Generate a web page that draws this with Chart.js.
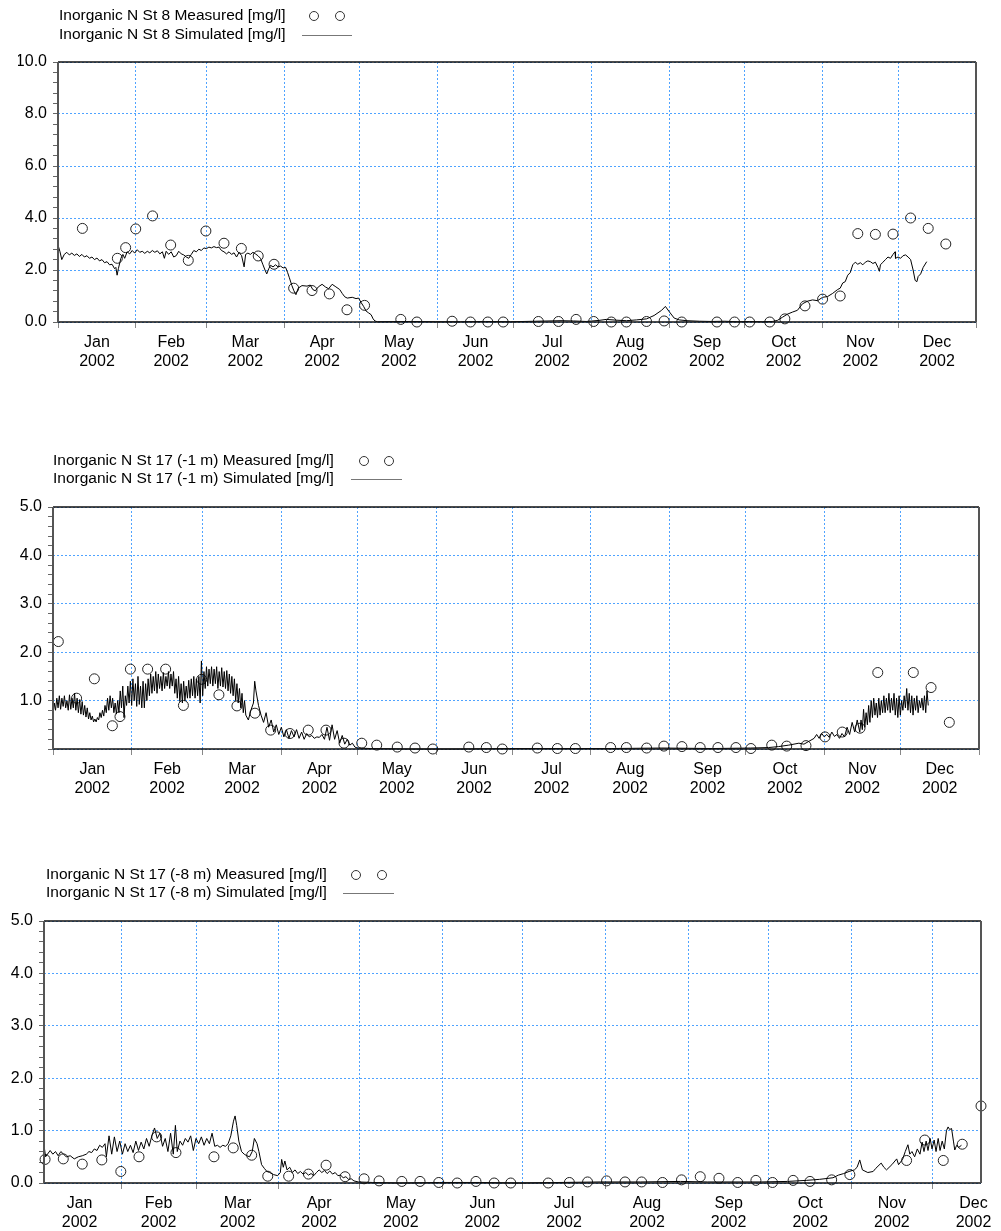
<!DOCTYPE html>
<html lang="en">
<head>
<meta charset="UTF-8">
<title>Inorganic N 2002</title>
<script src="https://cdn.jsdelivr.net/npm/chart.js"></script>
<style>
  body { margin: 0; background: #fff; }
  canvas { position: absolute; left: 0; }
</style>
</head>
<body>
<canvas id="c1" width="1001" height="410" style="top:0px"></canvas>
<canvas id="c2" width="1001" height="410" style="top:420px"></canvas>
<canvas id="c3" width="1001" height="401" style="top:830px"></canvas>
<script>
// x axis: day of year 2002 (0 = 1 Jan)
const months = ['Jan','Feb','Mar','Apr','May','Jun','Jul','Aug','Sep','Oct','Nov','Dec'];
const monthStart = [0,31,59,90,120,151,181,212,243,273,304,334,365];
const yearLabel = '2002';

// Station 8
const st8MeasDay = [9.7,23.6,26.9,30.9,37.6,44.8,51.8,58.8,66,72.9,79.6,85.9,93.7,101,107.9,114.9,121.9,136.3,142.7,156.7,164,170.9,177,191,199,206,213,220,226,234,241,248,262,269,275,283,289,297,304,311,318,325,332,339,346,353];
const st8MeasVal = [3.6,2.45,2.86,3.58,4.08,2.96,2.37,3.5,3.03,2.83,2.54,2.22,1.3,1.21,1.08,0.47,0.64,0.1,0.0,0.03,0.0,0.0,0.0,0.02,0.02,0.1,0.02,0.0,0.0,0.02,0.04,0.0,0.0,0.0,0.0,0.0,0.12,0.62,0.88,1.0,3.4,3.37,3.38,4.0,3.6,3.0];
const st8Sim = [[0,2.96],[0.8,2.7],[1.5,2.4],[2.5,2.6],[3.5,2.68],[4.5,2.58],[5.5,2.65],[6.5,2.56],[7.5,2.62],[8.5,2.52],[9.5,2.6],[10.5,2.5],[11.5,2.55],[12.5,2.45],[13.5,2.5],[14.5,2.4],[15.5,2.46],[16.5,2.35],[17.5,2.4],[18.5,2.28],[19.5,2.32],[20.5,2.2],[21.5,2.22],[22.5,2.05],[23,2.1],[23.5,1.8],[24,2.05],[25,2.45],[25.8,2.6],[26.5,2.45],[27.5,2.7],[28.5,2.62],[29.5,2.75],[30.5,2.65],[31.5,2.78],[32.5,2.68],[33.5,2.72],[34.5,2.64],[35.5,2.72],[36.5,2.66],[37.5,2.75],[38.5,2.68],[39.5,2.74],[40.5,2.62],[41.5,2.7],[42.3,2.45],[43,2.72],[44,2.6],[45,2.7],[46,2.5],[47,2.55],[48,2.72],[49,2.62],[50,2.58],[51,2.5],[52,2.45],[53,2.6],[54,2.75],[55,2.7],[56,2.8],[57,2.75],[58,2.85],[59,2.82],[60,2.88],[61,2.85],[62,2.9],[63,2.86],[64,2.88],[65,2.75],[66,2.7],[67,2.62],[68,2.7],[69,2.6],[70,2.66],[71,2.5],[72,2.68],[73,2.55],[74,2.12],[74.6,2.6],[75.5,2.65],[76.5,2.6],[77.5,2.68],[78.5,2.62],[79.5,2.55],[80.5,2.45],[81.5,2.2],[82.3,2.0],[83,1.85],[83.8,2.05],[84.5,2.18],[85.5,2.12],[86.5,2.2],[87.5,2.12],[88.5,2.15],[89.5,2.08],[90.5,2.1],[91.3,1.9],[92,1.7],[93,1.4],[93.8,1.2],[94.6,1.05],[95.5,1.3],[97,1.4],[99,1.38],[100.3,1.42],[101.3,1.25],[102.3,1.2],[103.5,1.35],[105,1.45],[106.3,1.35],[107.6,1.28],[109,1.45],[110.5,1.35],[112,1.25],[113,1.1],[114,0.97],[115,0.92],[117,0.95],[118.5,0.9],[119.5,0.92],[120.5,0.75],[121.5,0.6],[122.5,0.42],[123.5,0.35],[124.5,0.28],[125.3,0.12],[126,0.04],[127,0.01],[140,0.02],[150,0.01],[160,0.01],[170,0.02],[180,0.01],[190,0.03],[200,0.05],[205,0.04],[210,0.02],[215,0.06],[218,0.1],[222,0.07],[226,0.05],[230,0.08],[234,0.12],[237,0.25],[240,0.45],[241.5,0.6],[243,0.4],[245,0.15],[247,0.08],[250,0.05],[255,0.03],[260,0.02],[265,0.03],[270,0.01],[275,0.02],[280,0.01],[284,0.02],[286,0.06],[288,0.18],[290,0.3],[292,0.38],[294,0.45],[296,0.7],[298,0.8],[300,0.85],[302,0.82],[304,0.95],[306,0.98],[308,1.1],[310,1.25],[311,1.3],[312,1.5],[313,1.55],[314,1.8],[315,1.9],[316,2.2],[317,2.3],[318,2.22],[319,2.28],[320,2.2],[321,2.3],[322,2.35],[323,2.32],[324,2.25],[325,2.3],[326,2.1],[326.6,1.95],[327,2.2],[328,2.3],[329,2.4],[330,2.5],[331,2.45],[332,2.6],[332.8,2.7],[333,2.45],[334,2.5],[335,2.45],[336,2.55],[337,2.58],[338,2.5],[339,2.4],[340,2.0],[340.8,1.6],[341.5,1.55],[342,1.75],[343,1.85],[344,2.1],[345.4,2.32]];

// Station 17, -1 m
const st17sMeasDay = [2.1,9.3,16.3,23.4,26.4,30.5,37.3,44.4,51.4,58.6,65.4,72.5,79.6,85.8,93.4,100.6,107.6,114.7,121.7,127.6,135.7,142.7,149.7,163.9,170.8,177.1,190.9,198.8,205.9,219.8,226,234,240.8,247.9,255.1,262.1,269.2,275.1,283.3,289.2,296.8,304.3,311.1,318.1,325.1,339.1,346.1,353.3];
const st17sMeasVal = [2.22,1.05,1.45,0.48,0.67,1.65,1.65,1.65,0.9,1.44,1.12,0.89,0.74,0.39,0.32,0.39,0.39,0.12,0.12,0.08,0.04,0.02,0.0,0.04,0.03,0.0,0.02,0.01,0.01,0.03,0.03,0.02,0.06,0.05,0.03,0.03,0.03,0.01,0.08,0.06,0.07,0.25,0.35,0.43,1.58,1.58,1.27,0.55];
const st17sSim = [[0,0.7],[0.5,0.95],[1,0.8],[1.5,1.05],[2,0.85],[2.5,1.1],[3,0.82],[3.5,1.05],[4,0.88],[4.5,1.1],[5,0.85],[5.5,1.0],[6,0.8],[6.5,1.12],[7,0.82],[7.5,1.05],[8,0.85],[8.5,1.15],[9,0.8],[9.5,1.05],[10,0.75],[10.5,1.02],[11,0.72],[11.5,0.98],[12,0.7],[12.5,0.9],[13,0.66],[13.5,0.85],[14,0.62],[14.5,0.75],[15,0.6],[15.5,0.68],[16,0.56],[16.5,0.62],[17,0.56],[17.5,0.65],[18,0.6],[18.5,0.75],[19,0.65],[19.5,0.8],[20,0.68],[20.5,0.9],[21,0.75],[21.5,1.05],[22,0.8],[22.5,1.1],[23,0.85],[23.5,1.05],[24,0.75],[24.5,0.95],[25,0.72],[25.5,1.0],[26,0.75],[26.5,1.2],[27,0.85],[27.5,1.3],[28,0.65],[28.5,1.1],[29,0.9],[29.5,1.3],[30,0.95],[30.5,1.4],[31,0.9],[31.5,1.45],[32,1.0],[32.5,1.35],[33,0.88],[33.5,1.5],[34,0.92],[34.5,1.3],[35,0.85],[35.5,1.4],[36,0.85],[36.5,1.35],[37,1.0],[37.5,1.45],[38,1.1],[38.5,1.55],[39,1.15],[39.5,1.5],[40,1.2],[40.5,1.6],[41,1.15],[41.5,1.55],[42,1.25],[42.5,1.5],[43,1.2],[43.5,1.58],[44,1.25],[44.5,1.5],[45,1.3],[45.5,1.6],[46,1.25],[46.5,1.55],[47,1.3],[47.5,1.6],[48,1.15],[48.5,1.45],[49,1.05],[49.5,1.5],[50,0.98],[50.5,1.35],[51,0.95],[51.5,1.4],[52,1.0],[52.5,1.3],[53,1.05],[53.5,1.42],[54,1.05],[54.5,1.45],[55,1.1],[55.5,1.5],[56,1.05],[56.5,1.45],[57,1.1],[57.5,1.5],[58,0.95],[58.5,1.82],[59,1.1],[59.5,1.6],[60,1.25],[60.5,1.7],[61,1.3],[61.5,1.65],[62,1.35],[62.5,1.7],[63,1.3],[63.5,1.65],[64,1.35],[64.5,1.7],[65,1.25],[65.5,1.6],[66,1.3],[66.5,1.68],[67,1.28],[67.5,1.6],[68,1.25],[68.5,1.62],[69,1.2],[69.5,1.55],[70,1.15],[70.5,1.5],[71,1.1],[71.5,1.45],[72,1.0],[72.5,1.35],[73,0.95],[73.5,1.25],[74,0.85],[74.5,1.15],[75,0.75],[75.5,1.0],[76,0.7],[77,0.6],[78,0.8],[79,0.95],[79.5,1.4],[80,1.2],[81,0.9],[82,0.7],[83,0.55],[84,0.75],[85,0.45],[86,0.6],[87,0.35],[88,0.5],[89,0.3],[90,0.45],[91,0.25],[92,0.4],[93,0.22],[94,0.38],[95,0.25],[96,0.4],[97,0.22],[98,0.35],[99,0.2],[100,0.32],[101,0.25],[102,0.28],[103,0.22],[104,0.25],[105,0.24],[106,0.3],[107,0.2],[108,0.45],[109,0.18],[110,0.5],[111,0.2],[112,0.38],[113,0.12],[114,0.28],[115,0.1],[116,0.2],[117,0.08],[118,0.12],[119,0.04],[120,0.02],[125,0.01],[140,0.0],[160,0.0],[180,0.01],[200,0.01],[220,0.01],[240,0.02],[260,0.01],[275,0.02],[282,0.03],[286,0.05],[290,0.08],[294,0.12],[296,0.1],[298,0.16],[300,0.22],[301,0.3],[302,0.22],[303,0.32],[304,0.25],[305,0.3],[306,0.24],[307,0.35],[308,0.26],[309,0.3],[310,0.22],[311,0.32],[312,0.25],[313,0.45],[314,0.3],[315,0.55],[316,0.35],[317,0.6],[318,0.35],[318.5,0.6],[319,0.4],[319.5,0.82],[320,0.45],[320.5,0.75],[321,0.5],[321.5,0.9],[322,0.55],[322.5,1.0],[323,0.65],[323.5,1.05],[324,0.7],[324.5,0.95],[325,0.65],[325.5,1.05],[326,0.7],[326.5,1.0],[327,0.75],[327.5,1.1],[328,0.75],[328.5,1.05],[329,0.8],[329.5,1.15],[330,0.75],[330.5,1.05],[331,0.8],[331.5,1.15],[332,0.7],[332.5,1.05],[333,0.65],[333.5,1.1],[334,0.7],[334.5,1.0],[335,0.8],[335.5,1.1],[336,0.85],[336.5,1.25],[337,0.8],[337.5,1.15],[338,0.75],[338.5,1.1],[339,0.7],[339.5,1.05],[340,0.8],[340.5,1.1],[341,0.75],[341.5,1.0],[342,0.85],[342.5,1.05],[343,0.8],[343.5,1.1],[344,0.75],[344.5,1.2],[345,0.9]];

// Station 17, -8 m
const st17dMeasDay = [2.6,9.4,16.5,23.8,30.9,37.7,44.3,51.5,65.7,72.9,79.8,85.8,93.6,101,107.6,114.7,121.8,127.4,135.9,142.7,149.7,156.6,163.6,170.4,176.6,190.6,198.5,205.3,212.4,219.3,225.5,233.3,240.4,247.4,254.4,261.4,268.2,274.4,282.1,288.4,296.5,303.3,324.5,331.3,338.2,345.3,352.3];
const st17dMeasVal = [0.45,0.46,0.36,0.44,0.22,0.5,0.88,0.58,0.5,0.67,0.53,0.13,0.13,0.17,0.34,0.12,0.08,0.04,0.03,0.03,0.01,0.0,0.03,0.0,0.0,0.0,0.01,0.02,0.04,0.02,0.02,0.01,0.06,0.12,0.09,0.01,0.05,0.01,0.05,0.03,0.06,0.16,0.43,0.82,0.43,0.74,1.47];
const st17dSim = [[2.3,0.68],[2.8,0.5],[3.5,0.55],[4.5,0.62],[5.5,0.55],[6.5,0.6],[7.5,0.52],[8.5,0.6],[9.5,0.55],[10.5,0.5],[12,0.52],[13.5,0.46],[15,0.5],[16.5,0.52],[18,0.55],[19,0.6],[20,0.58],[21,0.65],[22,0.62],[23,0.72],[24,0.68],[25,0.75],[25.5,0.5],[26.5,0.9],[27.5,0.55],[28.5,0.88],[29.5,0.6],[30.5,0.8],[31.5,0.55],[32.5,0.75],[33.5,0.6],[34.5,0.72],[35.5,0.58],[36.5,0.8],[37.5,0.62],[38.5,0.78],[39.5,0.65],[40.5,0.85],[41.5,0.7],[42.5,0.9],[43.5,1.05],[44.5,0.85],[45.5,0.95],[46.5,0.7],[47.5,0.85],[48.5,0.6],[49.5,0.95],[50.5,0.55],[51.3,1.1],[52,0.6],[53,0.8],[54,0.72],[55,0.85],[56,0.78],[57,0.9],[58,0.62],[59,0.85],[60,0.75],[61,0.88],[62,0.72],[63,0.85],[64,0.75],[65,0.95],[66,0.7],[67,0.72],[68,0.68],[69,0.72],[70,0.7],[71,0.75],[72,0.9],[73,1.18],[73.6,1.28],[74.2,1.1],[75,0.8],[76,0.6],[77,0.55],[78,0.52],[79,0.5],[80,0.6],[80.8,0.85],[81.8,0.75],[82.5,0.6],[83.5,0.35],[84.5,0.28],[85.5,0.22],[86.5,0.2],[88,0.16],[89.5,0.14],[90.5,0.2],[91,0.45],[91.6,0.3],[92.2,0.42],[93,0.25],[94,0.3],[95,0.2],[96,0.25],[97,0.18],[98,0.22],[99,0.17],[100,0.2],[101,0.15],[102,0.18],[103,0.14],[104,0.2],[105,0.25],[106,0.2],[107,0.24],[108,0.18],[109,0.23],[110,0.17],[111,0.2],[112,0.14],[113,0.15],[114,0.1],[115,0.12],[116,0.07],[117,0.08],[118,0.04],[119.6,0.02],[125,0.01],[135,0.0],[150,0.01],[165,0.01],[180,0.0],[195,0.01],[210,0.02],[225,0.02],[240,0.03],[250,0.02],[260,0.02],[270,0.02],[280,0.03],[287,0.05],[292,0.07],[297,0.1],[299,0.15],[301,0.18],[303,0.22],[305,0.25],[306,0.3],[307,0.44],[308,0.25],[310,0.2],[312,0.22],[313,0.28],[315,0.38],[316,0.3],[317,0.25],[319,0.35],[320.8,0.46],[321.5,0.35],[323,0.45],[324,0.6],[325,0.73],[325.7,0.55],[326.5,0.6],[327.5,0.5],[328.5,0.65],[329.5,0.55],[330.3,0.78],[331,0.6],[331.8,0.8],[332.5,0.62],[333.3,0.85],[334,0.65],[334.8,0.82],[335.5,0.6],[336.3,0.85],[337,0.62],[337.8,0.8],[338.6,0.65],[339.4,1.0],[340,1.07],[340.6,1.02],[341.3,1.04],[342,0.8],[342.5,0.63],[343.2,0.72],[344,0.68],[345,0.72]];

const FONT = '"Liberation Sans", Arial, sans-serif';
const GRID_BLUE = '#4fa3ff';
const CLEAR = 'rgba(0,0,0,0)';

function near(a, b) { return Math.abs(a - b) < 1e-6; }

// frame around the plot area
const framePlugin = {
  id: 'frame',
  afterDraw(chart) {
    const { ctx, chartArea: a } = chart;
    ctx.save();
    ctx.lineWidth = 1.5;
    ctx.strokeStyle = '#111';
    ctx.beginPath();
    ctx.moveTo(a.left, a.top); ctx.lineTo(a.right, a.top);
    ctx.moveTo(a.left, a.bottom); ctx.lineTo(a.right, a.bottom);
    ctx.stroke();
    ctx.lineWidth = 2;
    ctx.strokeStyle = '#555';
    ctx.beginPath();
    ctx.moveTo(a.left, a.top); ctx.lineTo(a.left, a.bottom);
    ctx.moveTo(a.right, a.top); ctx.lineTo(a.right, a.bottom);
    ctx.stroke();
    ctx.restore();
  }
};

function legendPlugin(L) {
  return {
    id: 'nlegend',
    afterDraw(chart) {
      const ctx = chart.ctx;
      ctx.save();
      ctx.font = '15.5px ' + FONT;
      ctx.fillStyle = '#000';
      ctx.textAlign = 'left';
      ctx.textBaseline = 'middle';
      ctx.fillText(L.meas, L.x, L.y1);
      ctx.fillText(L.sim, L.x, L.y2);
      ctx.strokeStyle = '#333';
      ctx.lineWidth = 1;
      L.circles.forEach(cx => {
        ctx.beginPath();
        ctx.arc(cx, L.y1, 4.5, 0, Math.PI * 2);
        ctx.stroke();
      });
      ctx.strokeStyle = '#777';
      ctx.beginPath();
      ctx.moveTo(L.line[0], L.y2 + 0.5);
      ctx.lineTo(L.line[1], L.y2 + 0.5);
      ctx.stroke();
      ctx.restore();
    }
  };
}

function makePanel(id, o) {
  const mid = months.map((m, i) => (monthStart[i] + monthStart[i + 1]) / 2);
  const xTicks = [];
  monthStart.forEach(v => { if (v >= o.xMin && v <= o.xMax) xTicks.push(v); });
  mid.forEach(v => { if (v >= o.xMin && v <= o.xMax) xTicks.push(v); });
  xTicks.sort((a, b) => a - b);
  const isBoundary = v => monthStart.some(s => near(s, v));

  const yTicks = [];
  for (let i = 0; i <= Math.round(o.yMax / o.yMinor); i++) yTicks.push(Math.round(i * o.yMinor * 100) / 100);
  const isMajor = v => near(v / o.yMajor, Math.round(v / o.yMajor));

  new Chart(document.getElementById(id), {
    type: 'scatter',
    data: {
      datasets: [
        {
          data: o.sim.map(p => ({ x: p[0], y: p[1] })),
          showLine: true, borderColor: '#000', borderWidth: 1,
          pointRadius: 0, tension: 0, clip: false
        },
        {
          data: o.measDay.map((d, i) => ({ x: d, y: o.measVal[i] })),
          showLine: false, pointRadius: 5, pointBorderWidth: 1,
          pointBorderColor: '#222', pointBackgroundColor: CLEAR, clip: false
        }
      ]
    },
    options: {
      responsive: false,
      animation: false,
      layout: { padding: o.pad },
      plugins: { legend: { display: false }, tooltip: { enabled: false } },
      scales: {
        x: {
          type: 'linear', min: o.xMin, max: o.xMax,
          afterFit: s => { s.height = 45; },
          afterBuildTicks: s => { s.ticks = xTicks.map(v => ({ value: v })); },
          grid: {
            color: c => isBoundary(c.tick.value) ? GRID_BLUE : CLEAR,
            tickColor: c => isBoundary(c.tick.value) ? '#888' : CLEAR,
            tickLength: 6, lineWidth: 1
          },
          border: { display: false, dash: [2, 2] },
          ticks: {
            autoSkip: false, maxRotation: 0, padding: 5, color: '#000',
            font: { family: FONT, size: 16 },
            callback: v => {
              const i = mid.findIndex(m => near(m, v));
              return i >= 0 ? [months[i], yearLabel] : '';
            }
          }
        },
        y: {
          type: 'linear', min: 0, max: o.yMax,
          afterFit: s => { s.width = 40; },
          afterBuildTicks: s => { s.ticks = yTicks.map(v => ({ value: v })); },
          grid: {
            color: c => isMajor(c.tick.value) ? GRID_BLUE : CLEAR,
            tickColor: '#666', tickLength: 5, lineWidth: 1
          },
          border: { display: false, dash: [2, 2] },
          ticks: {
            autoSkip: false, padding: 6, color: '#000',
            font: { family: FONT, size: 16 },
            callback: v => (isMajor(v) && !(o.hideZero && near(v, 0))) ? v.toFixed(1) : ''
          }
        }
      }
    },
    plugins: [framePlugin, legendPlugin(o.legend)]
  });
}

makePanel('c1', {
  sim: st8Sim, measDay: st8MeasDay, measVal: st8MeasVal,
  xMin: 0, xMax: 365, yMax: 10, yMajor: 2, yMinor: 0.4,
  pad: { left: 18, right: 25, top: 62, bottom: 43 },
  legend: {
    meas: 'Inorganic N St 8 Measured [mg/l]', sim: 'Inorganic N St 8 Simulated [mg/l]',
    x: 59, y1: 16, y2: 35, circles: [314, 340], line: [302, 352]
  }
});

makePanel('c2', {
  sim: st17sSim, measDay: st17sMeasDay, measVal: st17sMeasVal,
  xMin: 0, xMax: 365, yMax: 5, yMajor: 1, yMinor: 0.2, hideZero: true,
  pad: { left: 13, right: 22, top: 87, bottom: 36 },
  legend: {
    meas: 'Inorganic N St 17 (-1 m) Measured [mg/l]', sim: 'Inorganic N St 17 (-1 m) Simulated [mg/l]',
    x: 53, y1: 41, y2: 59, circles: [364, 389], line: [351, 402]
  }
});

makePanel('c3', {
  sim: st17dSim, measDay: st17dMeasDay, measVal: st17dMeasVal,
  xMin: 2.2, xMax: 352.3, yMax: 5, yMajor: 1, yMinor: 0.2,
  pad: { left: 4, right: 20, top: 91, bottom: 3 },
  legend: {
    meas: 'Inorganic N St 17 (-8 m) Measured [mg/l]', sim: 'Inorganic N St 17 (-8 m) Simulated [mg/l]',
    x: 46, y1: 45, y2: 63, circles: [356, 382], line: [343, 394]
  }
});
</script>
</body>
</html>
